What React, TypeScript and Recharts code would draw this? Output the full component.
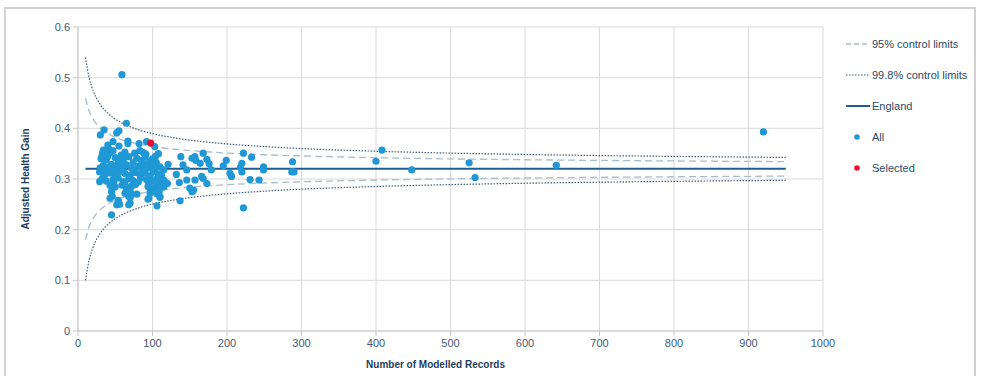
import React from 'react';
import { ComposedChart, Scatter, Line, XAxis, YAxis, CartesianGrid, Legend } from 'recharts';

const xTicks = [0, 100, 200, 300, 400, 500, 600, 700, 800, 900, 1000];
const yTicks = [0, 0.1, 0.2, 0.3, 0.4, 0.5, 0.6];

const limitN = [10, 15, 20, 30, 40, 50, 60, 80, 100, 130, 160, 200, 250, 300, 400, 500, 600, 700, 800, 950];
const upper95 = [0.4595, 0.4339, 0.4186, 0.4005, 0.3897, 0.3824, 0.3769, 0.3693, 0.3641, 0.3587, 0.3549, 0.3512, 0.3479, 0.3455, 0.3421, 0.3397, 0.338, 0.3367, 0.3356, 0.3343];
const lower95 = [0.1805, 0.2061, 0.2214, 0.2395, 0.2503, 0.2576, 0.2631, 0.2707, 0.2759, 0.2813, 0.2851, 0.2888, 0.2921, 0.2945, 0.2979, 0.3003, 0.302, 0.3033, 0.3044, 0.3057];
const upper998 = [0.5399, 0.4995, 0.4755, 0.4469, 0.4299, 0.4183, 0.4098, 0.3977, 0.3895, 0.381, 0.375, 0.3692, 0.364, 0.3601, 0.3548, 0.3511, 0.3484, 0.3463, 0.3446, 0.3426];
const lower998 = [0.1001, 0.1405, 0.1645, 0.1931, 0.2101, 0.2217, 0.2302, 0.2423, 0.2505, 0.259, 0.265, 0.2708, 0.276, 0.2799, 0.2852, 0.2889, 0.2916, 0.2937, 0.2954, 0.2974];

const englandN = [10, 950];
const englandValue = 0.32;

const allPoints: [number, number][] = [
  [59, 0.506], [65, 0.41], [35, 0.397], [30, 0.387], [52, 0.391], [55, 0.395], [67, 0.375], [67, 0.37],
  [82, 0.37], [92, 0.374], [103, 0.364], [55, 0.365], [47, 0.374], [40, 0.367], [41, 0.36], [34, 0.357],
  [33, 0.351], [32, 0.344],
  [36, 0.355], [43, 0.352], [47, 0.356], [63, 0.353], [76, 0.351], [83, 0.356], [88, 0.352], [91, 0.349],
  [31, 0.34], [38, 0.338], [50, 0.342], [56, 0.336], [61, 0.339], [79, 0.341], [85, 0.337], [90, 0.343], [97, 0.335],
  [34, 0.327], [41, 0.324], [45, 0.329], [52, 0.322], [59, 0.326], [65, 0.328], [72, 0.321], [81, 0.325],
  [88, 0.327], [94, 0.322], [99, 0.326], [103, 0.32], [110, 0.324],
  [29, 0.314], [36, 0.31], [43, 0.312], [50, 0.308], [56, 0.315], [63, 0.311], [70, 0.307], [77, 0.313],
  [83, 0.309], [90, 0.312], [97, 0.306], [101, 0.314], [108, 0.31], [112, 0.307],
  [32, 0.3], [38, 0.296], [47, 0.299], [54, 0.302], [61, 0.295], [68, 0.3], [74, 0.297], [81, 0.294],
  [92, 0.299], [99, 0.296], [106, 0.301], [112, 0.297], [117, 0.294],
  [43, 0.287], [50, 0.284], [59, 0.288], [65, 0.283], [72, 0.286], [77, 0.289], [94, 0.285], [101, 0.282],
  [108, 0.287], [115, 0.284],
  [45, 0.275], [63, 0.272], [70, 0.276], [79, 0.27], [97, 0.274], [106, 0.271],
  [43, 0.262], [54, 0.258], [70, 0.263], [94, 0.26], [110, 0.264],
  [45, 0.229], [52, 0.249], [56, 0.25], [68, 0.249], [70, 0.252], [46, 0.266], [68, 0.266], [72, 0.27],
  [106, 0.247], [95, 0.262],
  [38, 0.32], [47, 0.318], [54, 0.332], [61, 0.318], [74, 0.333], [86, 0.318], [92, 0.33], [105, 0.333],
  [115, 0.318], [40, 0.345], [58, 0.347], [68, 0.344], [75, 0.315], [84, 0.302], [95, 0.29], [63, 0.29],
  [48, 0.292], [105, 0.292], [120, 0.291], [115, 0.298], [121, 0.329], [109, 0.282], [109, 0.275],
  [110, 0.265], [97, 0.272], [35, 0.305], [30, 0.322], [29, 0.295], [34, 0.318], [100, 0.34], [104, 0.345], [108, 0.35],
  [132, 0.309], [138, 0.344], [141, 0.328], [146, 0.318], [136, 0.293], [137, 0.257], [146, 0.298],
  [150, 0.282], [153, 0.275], [155, 0.278], [153, 0.341], [157, 0.344], [158, 0.337], [164, 0.331],
  [168, 0.351], [173, 0.339], [176, 0.33], [179, 0.318], [166, 0.305], [168, 0.301], [173, 0.291],
  [157, 0.298], [195, 0.326], [199, 0.337], [204, 0.311], [206, 0.305], [222, 0.351], [220, 0.331],
  [218, 0.323], [220, 0.314], [233, 0.343], [231, 0.299], [222, 0.243], [249, 0.324], [249, 0.318],
  [243, 0.298], [288, 0.334], [287, 0.314], [290, 0.314],
  [400, 0.335], [408, 0.357], [448, 0.318], [525, 0.332], [533, 0.303], [642, 0.327], [920, 0.393],
];
const selectedPoints: [number, number][] = [[97.5, 0.371]];

const legendLabels = ['95% control limits', '99.8% control limits', 'England', 'All', 'Selected'];

const FONT = '"Liberation Sans", Arial, sans-serif';
const DOT_BLUE = '#1f98d5';
const DOT_RED = '#e8112d';
const LINE_95 = '#a9bccb';
const LINE_998 = '#3c5977';
const LINE_ENG = '#1f5d93';

const toLine = (vals: number[]) => limitN.map((n, i) => ({ n, v: vals[i] }));
const u95 = toLine(upper95);
const l95 = toLine(lower95);
const u998 = toLine(upper998);
const l998 = toLine(lower998);
const england = englandN.map((n) => ({ n, v: englandValue }));
const allData = allPoints.map(([n, v]) => ({ n, v }));
const selData = selectedPoints.map(([n, v]) => ({ n, v }));

const dotShape = (color: string) => (props: any) => (
  <circle cx={props.cx} cy={props.cy} r={3.6} fill={color} />
);

const renderLegend = () => {
  const icon = (i: number) => {
    if (i === 0) return <line x1={0} y1={6} x2={24} y2={6} stroke={LINE_95} strokeWidth={1.3} strokeDasharray="5 3" />;
    if (i === 1) return <line x1={0} y1={6} x2={24} y2={6} stroke={LINE_998} strokeWidth={1.2} strokeDasharray="1.5 1.5" />;
    if (i === 2) return <line x1={0} y1={6} x2={24} y2={6} stroke={LINE_ENG} strokeWidth={2} />;
    if (i === 3) return <circle cx={11} cy={6} r={2.8} fill={DOT_BLUE} />;
    return <circle cx={11} cy={6} r={2.8} fill={DOT_RED} />;
  };
  return (
    <div style={{ fontFamily: FONT, fontSize: 11, color: '#2b4966' }}>
      {legendLabels.map((lab, i) => (
        <div key={lab} style={{ height: 31.2, display: 'flex', alignItems: 'center' }}>
          <svg width={25} height={12} style={{ display: 'block' }}>{icon(i)}</svg>
          <span style={{ marginLeft: 1 }}>{lab}</span>
        </div>
      ))}
    </div>
  );
};

export default function App() {
  return (
    <div style={{ position: 'absolute', left: 0, top: 0, width: 984, height: 376, overflow: 'hidden', background: '#fff' }}>
      <div style={{ position: 'absolute', left: 4, top: 7, width: 972, height: 420, border: '2px solid #d2d2d2', boxSizing: 'border-box' }} />
      <div style={{ position: 'absolute', left: 0, top: 0 }}>
        <ComposedChart
          width={984}
          height={376}
          margin={{ top: 27, right: 161, bottom: 0, left: 0 }}
          style={{ fontFamily: FONT }}
        >
          <CartesianGrid stroke="#dadada" strokeWidth={1} />
          <XAxis
            dataKey="n"
            type="number"
            domain={[0, 1000]}
            ticks={xTicks}
            allowDataOverflow
            height={45}
            stroke="#c6c6c6"
            tickSize={5}
            tickMargin={3}
            tick={{ fill: '#3d5a78', fontSize: 11 }}
            label={{
              content: (p: any) => {
                const vb = p.viewBox || { x: 78, y: 331, width: 745 };
                return (
                  <text x={vb.x + vb.width / 2 - 15} y={368} textAnchor="middle" fill="#1f3d5c" fontSize={10} fontWeight="bold" fontFamily={FONT}>
                    Number of Modelled Records
                  </text>
                );
              },
            }}
          />
          <YAxis
            type="number"
            domain={[0, 0.6]}
            ticks={yTicks}
            width={78}
            stroke="#c6c6c6"
            tickSize={5}
            tickMargin={3}
            tick={{ fill: '#3d5a78', fontSize: 11 }}
            label={{
              content: (p: any) => {
                const vb = p.viewBox || { x: 0, y: 27, height: 304 };
                const cx = 25;
                const cy = vb.y + vb.height / 2;
                return (
                  <text x={cx} y={cy} transform={`rotate(-90 ${cx} ${cy})`} textAnchor="middle" dominantBaseline="central" fill="#1f3d5c" fontSize={10} fontWeight="bold" fontFamily={FONT}>
                    Adjusted Health Gain
                  </text>
                );
              },
            }}
          />
          <Line data={u95} dataKey="v" type="monotone" stroke={LINE_95} strokeWidth={1.3} strokeDasharray="7 4" dot={false} activeDot={false} isAnimationActive={false} />
          <Line data={l95} dataKey="v" type="monotone" stroke={LINE_95} strokeWidth={1.3} strokeDasharray="7 4" dot={false} activeDot={false} isAnimationActive={false} />
          <Line data={u998} dataKey="v" type="monotone" stroke={LINE_998} strokeWidth={1.2} strokeDasharray="1.5 1.5" dot={false} activeDot={false} isAnimationActive={false} />
          <Line data={l998} dataKey="v" type="monotone" stroke={LINE_998} strokeWidth={1.2} strokeDasharray="1.5 1.5" dot={false} activeDot={false} isAnimationActive={false} />
          <Line data={england} dataKey="v" type="linear" stroke={LINE_ENG} strokeWidth={2} dot={false} activeDot={false} isAnimationActive={false} />
          <Scatter data={allData} dataKey="v" fill={DOT_BLUE} shape={dotShape(DOT_BLUE)} isAnimationActive={false} />
          <Scatter data={selData} dataKey="v" fill={DOT_RED} shape={dotShape(DOT_RED)} isAnimationActive={false} />
          <Legend
            layout="vertical"
            align="center"
            verticalAlign="middle"
            content={renderLegend}
            wrapperStyle={{ position: 'absolute', left: 846, top: 28, width: 138 }}
          />
        </ComposedChart>
      </div>
    </div>
  );
}
